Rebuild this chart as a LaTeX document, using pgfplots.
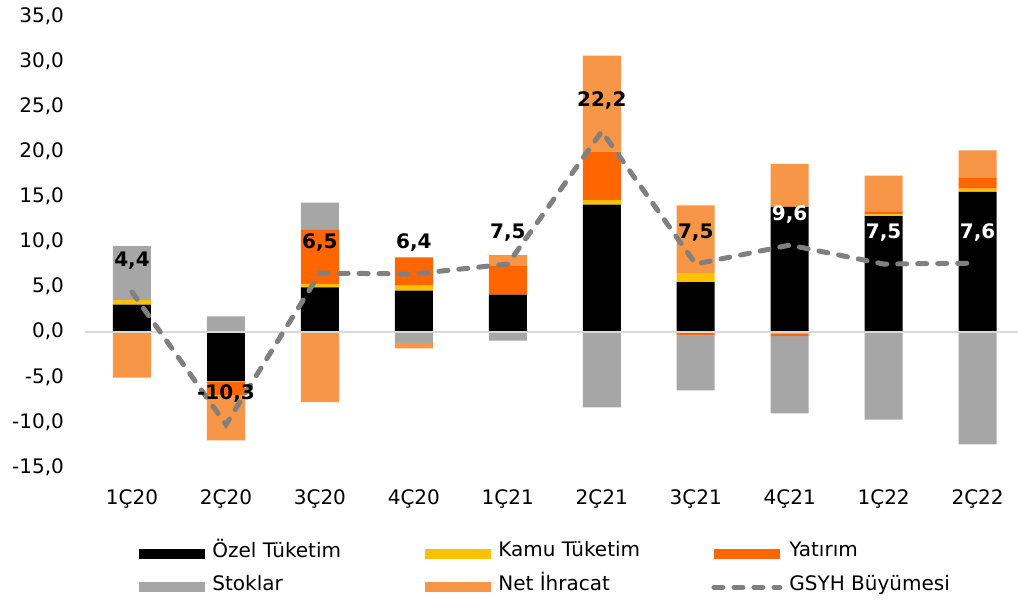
\documentclass[border=0pt]{standalone}
\usepackage{fontspec}
\setmainfont{DejaVu Sans}
\usepackage{pgfplots}
\usepackage{pgfplotstable}
\pgfplotsset{compat=1.18}

\definecolor{cOz}{HTML}{000000}
\definecolor{cKa}{HTML}{FFC000}
\definecolor{cYa}{HTML}{FF6600}
\definecolor{cSt}{HTML}{A6A6A6}
\definecolor{cNe}{HTML}{F79646}
\definecolor{cLine}{HTML}{808080}
\definecolor{cZero}{HTML}{D9D9D9}

\pgfplotstableread{
x oz ka ya st ne
0 3.0 0.5 0 6.0 0
1 0 0 0 1.7 0
2 4.9 0.4 6.0 3.0 0
3 4.55 0.55 3.15 0 0
4 4.1 0 3.2 0 1.2
5 14.1 0.5 5.35 0 10.65
6 5.5 1.0 0 0 7.5
7 13.85 0 0 0 4.75
8 12.8 0.2 0.25 0 4.05
9 15.5 0.35 1.2 0 3.05
}\posdata

\pgfplotstableread{
x oz ka ya st ne
0 0 0 0 0 -5.1
1 -5.5 0 -1.55 0 -5.0
2 0 0 0 0 -7.8
3 0 0 0 -1.25 -0.6
4 0 0 0 -1.0 0
5 0 0 0 -8.4 0
6 0 0 -0.4 -6.1 0
7 0 -0.2 -0.3 -8.55 0
8 0 0 0 -9.75 0
9 0 0 0 -12.5 0
}\negdata

\pgfplotsset{
  common/.style={scale only axis, width=466.5pt, height=225.5pt,
    xmin=-0.5, xmax=9.43, ymin=-15, ymax=35},
  rectleg/.style={legend image code/.code={\fill[##1] (0pt,-4.5pt) rectangle (33pt,0.5pt);}},
  lineleg/.style={legend image code/.code={\draw[##1] (0pt,-2pt) -- (33pt,-2pt);}},
}
\newcommand{\LE}[1]{\makebox[100pt][l]{\hspace{2.5pt}\strut #1}}

\begin{document}
\begin{tikzpicture}[font=\fontsize{10}{12}\selectfont]
% negative parts with ticks
\begin{axis}[common, name=main, ybar stacked, bar width=19pt,
  axis line style={draw=none}, major tick length=0,
  ytick={-15,-10,...,35},
  xtick={0,...,9},
  xticklabels={1Ç20,2Ç20,3Ç20,4Ç20,1Ç21,2Ç21,3Ç21,4Ç21,1Ç22,2Ç22},
  yticklabel style={xshift=-7pt},
  xticklabel style={yshift=-8pt},
  /pgf/number format/use comma,
  /pgf/number format/fixed,
  /pgf/number format/fixed zerofill,
  /pgf/number format/precision=1,
  /pgf/number format/assume math mode=true]
\addplot[fill=cOz, draw=none] table[x=x,y=oz]{\negdata};
\addplot[fill=cKa, draw=none] table[x=x,y=ka]{\negdata};
\addplot[fill=cYa, draw=none] table[x=x,y=ya]{\negdata};
\addplot[fill=cSt, draw=none] table[x=x,y=st]{\negdata};
\addplot[fill=cNe, draw=none] table[x=x,y=ne]{\negdata};
\end{axis}
% positive parts
\begin{axis}[common, ybar stacked, bar width=19pt, hide axis]
\addplot[fill=cOz, draw=none] table[x=x,y=oz]{\posdata};
\addplot[fill=cKa, draw=none] table[x=x,y=ka]{\posdata};
\addplot[fill=cYa, draw=none] table[x=x,y=ya]{\posdata};
\addplot[fill=cSt, draw=none] table[x=x,y=st]{\posdata};
\addplot[fill=cNe, draw=none] table[x=x,y=ne]{\posdata};
\end{axis}
% zero line, GDP line, labels, legend
\begin{axis}[common, clip=false,
  axis line style={draw=none}, xtick=\empty, ytick=\empty,
  extra y ticks={0}, extra y tick labels={},
  extra y tick style={grid=major, major tick length=0},
  major grid style={cZero, line width=1pt},
  legend columns=3,
  legend cell align=left,
  legend style={at={(0,0)}, anchor=north west, xshift=27pt, yshift=-35pt,
    draw=none, fill=none, inner sep=0pt, column sep=0pt, row sep=4pt,
    nodes={inner sep=1pt},
    /tikz/every even column/.append style={column sep=8pt}}]
\addlegendimage{rectleg, fill=cOz, draw=none}
\addlegendentry{\LE{Özel Tüketim}}
\addlegendimage{rectleg, fill=cKa, draw=none}
\addlegendentry{\LE{Kamu Tüketim}}
\addlegendimage{rectleg, fill=cYa, draw=none}
\addlegendentry{\LE{Yatırım}}
\addlegendimage{rectleg, fill=cSt, draw=none}
\addlegendentry{\LE{Stoklar}}
\addlegendimage{rectleg, fill=cNe, draw=none}
\addlegendentry{\LE{Net İhracat}}
\addplot[cLine, line width=2.5pt, line cap=round, dash pattern=on 4.5pt off 5.5pt,
  mark=none, lineleg,
  nodes near coords, point meta=explicit symbolic,
  every node near coord/.append style={font=\fontsize{10}{12}\selectfont\bfseries,
    text=black, anchor=center, yshift=15.5pt}]
coordinates {
(0,4.4) [4,4]
(1,-10.3) [-10,3]
(2,6.5) [6,5]
(3,6.4) [6,4]
(4,7.5) [7,5]
(5,22.2) [22,2]
(6,7.5) [7,5]
(7,9.6) [\textcolor{white}{9,6}]
(8,7.5) [\textcolor{white}{7,5}]
(9,7.6) [\textcolor{white}{7,6}]
};
\addlegendentry{\LE{GSYH Büyümesi}}
\end{axis}
\pgfresetboundingbox
\path ([shift={(-42.5pt,-68pt)}]main.south west) rectangle ++(509pt,301.5pt);
\end{tikzpicture}
\end{document}
